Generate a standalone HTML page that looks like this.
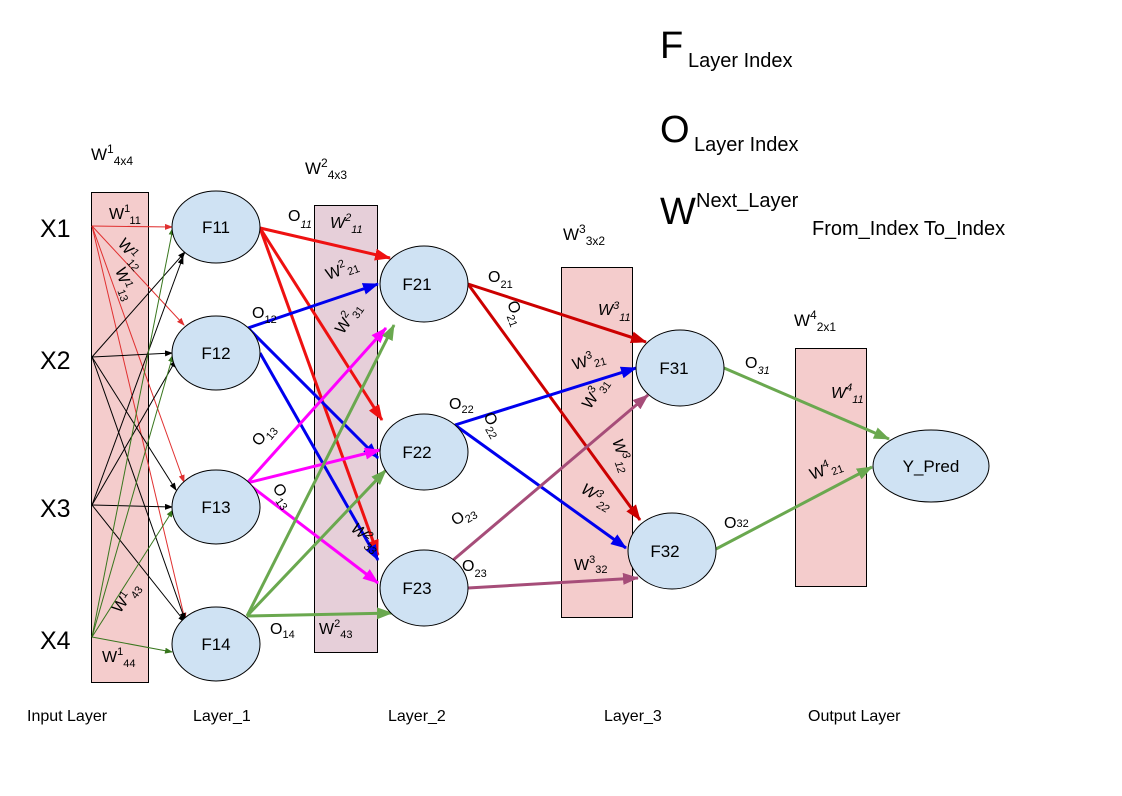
<!DOCTYPE html>
<html><head><meta charset="utf-8"><style>
html,body{margin:0;padding:0;background:#fff;}
svg{display:block;font-family:"Liberation Sans",Arial,sans-serif;}
</style></head><body>
<svg width="1122" height="796" viewBox="0 0 1122 796" xmlns="http://www.w3.org/2000/svg">
<defs>
<marker id="aR" markerUnits="userSpaceOnUse" markerWidth="16" markerHeight="12" refX="15" refY="6" orient="auto"><path d="M0,0 L16,6 L0,12z" fill="#ee1111"/></marker>
<marker id="aDR" markerUnits="userSpaceOnUse" markerWidth="16" markerHeight="12" refX="15" refY="6" orient="auto"><path d="M0,0 L16,6 L0,12z" fill="#cc0000"/></marker>
<marker id="aB" markerUnits="userSpaceOnUse" markerWidth="16" markerHeight="12" refX="15" refY="6" orient="auto"><path d="M0,0 L16,6 L0,12z" fill="#0000ee"/></marker>
<marker id="aM" markerUnits="userSpaceOnUse" markerWidth="16" markerHeight="12" refX="15" refY="6" orient="auto"><path d="M0,0 L16,6 L0,12z" fill="#ff00ff"/></marker>
<marker id="aG" markerUnits="userSpaceOnUse" markerWidth="16" markerHeight="12" refX="15" refY="6" orient="auto"><path d="M0,0 L16,6 L0,12z" fill="#6aa84f"/></marker>
<marker id="aP" markerUnits="userSpaceOnUse" markerWidth="16" markerHeight="12" refX="15" refY="6" orient="auto"><path d="M0,0 L16,6 L0,12z" fill="#a64d79"/></marker>
<marker id="sR" markerUnits="userSpaceOnUse" markerWidth="8" markerHeight="6" refX="7" refY="3" orient="auto"><path d="M0,0 L8,3 L0,6z" fill="#e03030"/></marker>
<marker id="sK" markerUnits="userSpaceOnUse" markerWidth="8" markerHeight="6" refX="7" refY="3" orient="auto"><path d="M0,0 L8,3 L0,6z" fill="#000"/></marker>
<marker id="sG" markerUnits="userSpaceOnUse" markerWidth="8" markerHeight="6" refX="7" refY="3" orient="auto"><path d="M0,0 L8,3 L0,6z" fill="#38761d"/></marker>
</defs>

<rect x="91.5" y="192.5" width="57" height="490" fill="#f4cccc" stroke="#000"/>
<rect x="314.5" y="205.5" width="63" height="447" fill="#e6cfd9" stroke="#000"/>
<rect x="561.5" y="267.5" width="71" height="350" fill="#f4cccc" stroke="#000"/>
<rect x="795.5" y="348.5" width="71" height="238" fill="#f4cccc" stroke="#000"/>

<g stroke-width="1" fill="none">
<g stroke="#e03030" marker-end="url(#sR)">
<line x1="92" y1="226" x2="172" y2="227"/>
<line x1="92" y1="226" x2="184" y2="325"/>
<line x1="92" y1="226" x2="184" y2="482"/>
<line x1="92" y1="226" x2="185" y2="620"/>
</g>
<g stroke="#000" marker-end="url(#sK)">
<line x1="92" y1="357" x2="185" y2="252"/>
<line x1="92" y1="357" x2="172" y2="353"/>
<line x1="92" y1="357" x2="176" y2="490"/>
<line x1="92" y1="357" x2="185" y2="620"/>
<line x1="92" y1="505" x2="183" y2="257"/>
<line x1="92" y1="505" x2="176" y2="360"/>
<line x1="92" y1="505" x2="172" y2="507"/>
<line x1="92" y1="505" x2="185" y2="622"/>
</g>
<g stroke="#38761d" marker-end="url(#sG)">
<line x1="92" y1="637" x2="173" y2="228"/>
<line x1="92" y1="637" x2="173" y2="355"/>
<line x1="92" y1="637" x2="173" y2="510"/>
<line x1="92" y1="637" x2="172" y2="652"/>
</g>
</g>

<g stroke-width="3" fill="none">
<g stroke="#ee1111" marker-end="url(#aR)">
<line x1="260" y1="228" x2="390" y2="258"/>
<line x1="260" y1="228" x2="382" y2="420"/>
<line x1="260" y1="228" x2="378" y2="555"/>
</g>
<g stroke="#0000ee" marker-end="url(#aB)">
<line x1="248" y1="328" x2="378" y2="284"/>
<line x1="248" y1="328" x2="378" y2="458"/>
<line x1="260" y1="353" x2="378" y2="560"/>
</g>
<g stroke="#ff00ff" marker-end="url(#aM)">
<line x1="247" y1="483" x2="386" y2="328"/>
<line x1="247" y1="483" x2="380" y2="450"/>
<line x1="247" y1="483" x2="378" y2="583"/>
</g>
<g stroke="#6aa84f" marker-end="url(#aG)">
<line x1="247" y1="616" x2="394" y2="325"/>
<line x1="247" y1="616" x2="386" y2="470"/>
<line x1="247" y1="616" x2="392" y2="613"/>
</g>
<g stroke="#cc0000" marker-end="url(#aDR)">
<line x1="468" y1="284" x2="646" y2="342"/>
<line x1="468" y1="284" x2="640" y2="520"/>
</g>
<g stroke="#0000ee" marker-end="url(#aB)">
<line x1="455" y1="425" x2="636" y2="368"/>
<line x1="455" y1="425" x2="626" y2="548"/>
</g>
<g stroke="#a64d79" marker-end="url(#aP)">
<line x1="452" y1="561" x2="648" y2="395"/>
<line x1="468" y1="588" x2="638" y2="578"/>
</g>
<g stroke="#6aa84f" marker-end="url(#aG)">
<line x1="724" y1="368" x2="889" y2="439"/>
<line x1="716" y1="549" x2="872" y2="467"/>
</g>
</g>

<g fill="#cfe2f3" stroke="#000" stroke-width="1">
<ellipse cx="216" cy="227" rx="44" ry="36"/>
<ellipse cx="216" cy="353" rx="44" ry="37"/>
<ellipse cx="216" cy="507" rx="44" ry="37"/>
<ellipse cx="216" cy="644" rx="44" ry="37"/>
<ellipse cx="424" cy="284" rx="44" ry="38"/>
<ellipse cx="424" cy="452" rx="44" ry="38"/>
<ellipse cx="424" cy="588" rx="44" ry="38"/>
<ellipse cx="680" cy="368" rx="44" ry="38"/>
<ellipse cx="672" cy="551" rx="44" ry="38"/>
<ellipse cx="931" cy="466" rx="58" ry="36"/>
</g>
<g font-size="17" fill="#000" text-anchor="middle">
<text x="216" y="233">F11</text>
<text x="216" y="359">F12</text>
<text x="216" y="513">F13</text>
<text x="216" y="650">F14</text>
<text x="417" y="290">F21</text>
<text x="417" y="458">F22</text>
<text x="417" y="594">F23</text>
<text x="674" y="374">F31</text>
<text x="665" y="557">F32</text>
<text x="931" y="472">Y_Pred</text>
</g>

<g font-size="25" fill="#000">
<text x="40" y="237">X1</text>
<text x="40" y="369">X2</text>
<text x="40" y="517">X3</text>
<text x="40" y="649">X4</text>
</g>

<g font-size="16" fill="#000">
<text x="27" y="721">Input Layer</text>
<text x="193" y="721">Layer_1</text>
<text x="388" y="721">Layer_2</text>
<text x="604" y="721">Layer_3</text>
<text x="808" y="721">Output Layer</text>
</g>

<g fill="#000">
<text x="660" y="58" font-size="38">F</text>
<text x="688" y="67" font-size="20">Layer Index</text>
<text x="660" y="142" font-size="38">O</text>
<text x="694" y="151" font-size="20">Layer Index</text>
<text x="660" y="224" font-size="38">W</text>
<text x="696" y="207" font-size="20">Next_Layer</text>
<text x="812" y="235" font-size="20">From_Index To_Index</text>
</g>

<g fill="#000" font-size="17">
<text x="91" y="160">W<tspan font-size="12" dy="-7">1</tspan><tspan font-size="12" dy="12">4x4</tspan></text>
<text x="305" y="174">W<tspan font-size="12" dy="-7">2</tspan><tspan font-size="12" dy="12">4x3</tspan></text>
<text x="563" y="240">W<tspan font-size="12" dy="-7">3</tspan><tspan font-size="12" dy="12">3x2</tspan></text>
<text x="794" y="326">W<tspan font-size="12" dy="-7">4</tspan><tspan font-size="12" dy="12">2x1</tspan></text>
</g>

<g fill="#000" font-size="16">
<text x="109" y="219">W<tspan font-size="11" dy="-7">1</tspan><tspan font-size="11" dy="12">11</tspan></text>
<text transform="translate(117,244) rotate(50)">W<tspan font-size="11" dy="-5">1</tspan><tspan font-size="11" dy="10">12</tspan></text>
<text transform="translate(115,270) rotate(70)">W<tspan font-size="11" dy="-5">1</tspan><tspan font-size="11" dy="10">13</tspan></text>
<text transform="translate(120,614) rotate(-55)">W<tspan font-size="11" dy="-5">1</tspan><tspan font-size="11" dy="10">43</tspan></text>
<text x="102" y="662">W<tspan font-size="11" dy="-7">1</tspan><tspan font-size="11" dy="12">44</tspan></text>

<text x="288" y="221">O<tspan font-size="11" dy="7" font-style="italic">11</tspan></text>
<text x="330" y="228" font-style="italic">W<tspan font-size="11" dy="-7">2</tspan><tspan font-size="11" dy="12">11</tspan></text>
<text transform="translate(328,280) rotate(-20)">W<tspan font-size="11" dy="-7">2</tspan><tspan font-size="11" dy="10">21</tspan></text>
<text transform="translate(343,335) rotate(-55)">W<tspan font-size="11" dy="-7">2</tspan><tspan font-size="11" dy="10">31</tspan></text>
<text x="252" y="318">O<tspan font-size="11" dy="5">12</tspan></text>
<text transform="translate(259,447) rotate(-50)">O<tspan font-size="11" dy="5">13</tspan></text>
<text transform="translate(272,488) rotate(55)">O<tspan font-size="11" dy="5">13</tspan></text>
<text transform="translate(350,530) rotate(40)" font-style="italic">W<tspan font-size="11" dy="-5">2</tspan><tspan font-size="11" dy="10">33</tspan></text>
<text x="270" y="634">O<tspan font-size="11" dy="4">14</tspan></text>
<text x="319" y="634">W<tspan font-size="11" dy="-7">2</tspan><tspan font-size="11" dy="11">43</tspan></text>

<text x="488" y="282">O<tspan font-size="11" dy="6">21</tspan></text>
<text transform="translate(507,303) rotate(70)">O<tspan font-size="11" dy="5">21</tspan></text>
<text x="598" y="315" font-style="italic">W<tspan font-size="11" dy="-6">3</tspan><tspan font-size="11" dy="12">11</tspan></text>
<text transform="translate(574,370) rotate(-15)">W<tspan font-size="11" dy="-7">3</tspan><tspan font-size="11" dy="10">21</tspan></text>
<text transform="translate(590,410) rotate(-55)">W<tspan font-size="11" dy="-7">3</tspan><tspan font-size="11" dy="10">31</tspan></text>
<text x="449" y="409">O<tspan font-size="11" dy="4">22</tspan></text>
<text transform="translate(483,416) rotate(60)">O<tspan font-size="11" dy="5">22</tspan></text>
<text transform="translate(612,441) rotate(70)" font-style="italic">W<tspan font-size="11" dy="-5">3</tspan><tspan font-size="11" dy="10">12</tspan></text>
<text transform="translate(580,492) rotate(30)" font-style="italic">W<tspan font-size="11" dy="-5">3</tspan><tspan font-size="11" dy="10">22</tspan></text>
<text transform="translate(455,526) rotate(-30)">O<tspan font-size="11" dy="4">23</tspan></text>
<text x="462" y="571">O<tspan font-size="11" dy="6">23</tspan></text>
<text x="574" y="570">W<tspan font-size="11" dy="-7">3</tspan><tspan font-size="11" dy="10">32</tspan></text>

<text x="745" y="368">O<tspan font-size="11" dy="6" font-style="italic">31</tspan></text>
<text x="831" y="398" font-style="italic">W<tspan font-size="11" dy="-7">4</tspan><tspan font-size="11" dy="12">11</tspan></text>
<text transform="translate(812,480) rotate(-20)">W<tspan font-size="11" dy="-7">4</tspan><tspan font-size="11" dy="10">21</tspan></text>
<text x="724" y="528">O<tspan font-size="11" dy="-1">32</tspan></text>
</g>
</svg>
</body></html>
